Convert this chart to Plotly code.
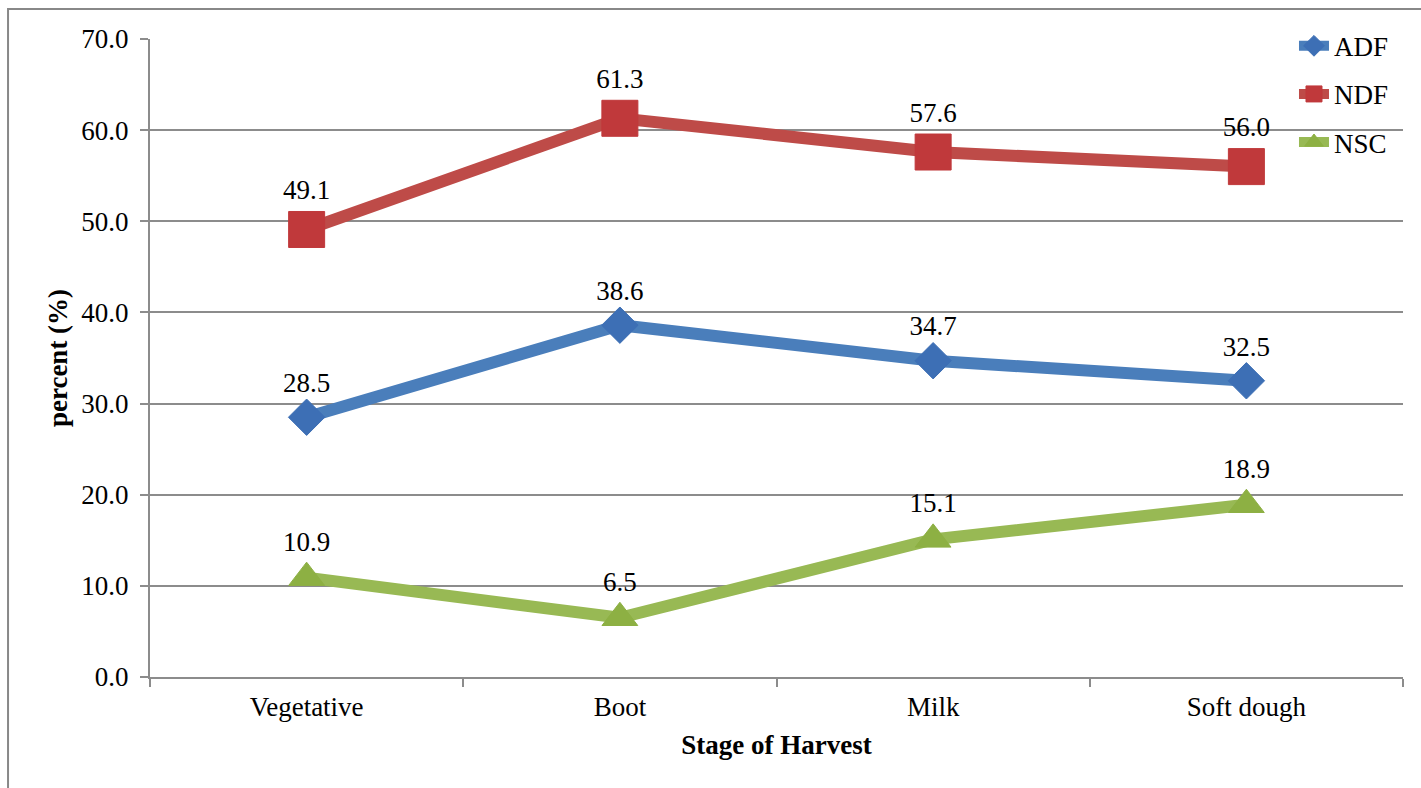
import plotly.graph_objects as go

stages = ["Vegetative", "Boot", "Milk", "Soft dough"]
adf = [28.5, 38.6, 34.7, 32.5]
ndf = [49.1, 61.3, 57.6, 56.0]
nsc = [10.9, 6.5, 15.1, 18.9]
y_ticks = [0, 10, 20, 30, 40, 50, 60, 70]

FONT = "Liberation Serif"
FS = 27

series = [
    ("ADF", adf, "#4A7EBB", "#3D6FB5", "diamond", 28),
    ("NDF", ndf, "#BE4B48", "#C0393B", "square", 36),
    ("NSC", nsc, "#98B954", "#8DB043", "triangle-up", 31),
]

fig = go.Figure()
for i, (name, vals, lc, mc, sym, ms) in enumerate(series):
    fig.add_trace(go.Scatter(
        x=stages, y=vals, name=name, mode="lines+markers+text",
        line=dict(color=lc, width=12),
        marker=dict(symbol=sym, size=ms, color=mc, line=dict(color=mc, width=1)),
        text=[f"{v:.1f}" for v in vals], textposition="top center",
        textfont=dict(family=FONT, size=FS, color="black"),
        legendgroup=name,
    ))

fig.update_layout(
    width=1421, height=788,
    margin=dict(l=150, r=18, t=39, b=111),
    paper_bgcolor="white", plot_bgcolor="white",
    font=dict(family=FONT, size=FS, color="black"),
    showlegend=True,
    legend=dict(x=0.913, y=1.027, xanchor="left", yanchor="top",
                bgcolor="rgba(0,0,0,0)", font=dict(family=FONT, size=FS),
                tracegroupgap=10, itemwidth=30),
    xaxis=dict(
        type="category", range=[-0.5, 3.5], tickson="boundaries",
        ticks="outside", ticklen=8, tickcolor="#8C8C8C", tickwidth=2,
        showline=True, linecolor="#8C8C8C", linewidth=2,
        showgrid=False, zeroline=False,
        tickfont=dict(family=FONT, size=FS), ticklabelstandoff=5,
        title=dict(text="<b>Stage of Harvest</b>", font=dict(family=FONT, size=FS), standoff=14),
    ),
    yaxis=dict(
        range=[0, 70], tickvals=y_ticks, ticktext=[f"{v:.1f}" for v in y_ticks],
        ticks="outside", ticklen=8, tickcolor="#8C8C8C", tickwidth=2,
        showline=True, linecolor="#8C8C8C", linewidth=2,
        showgrid=True, gridcolor="#8C8C8C", gridwidth=1.5, zeroline=False,
        tickfont=dict(family=FONT, size=FS), ticklabelstandoff=6,
        title=dict(text="<b>percent (%)</b>", font=dict(family=FONT, size=FS), standoff=6),
    ),
    shapes=[dict(type="rect", xref="paper", yref="paper",
                 x0=-0.1133, x1=1.2, y0=-0.4, y1=1.047,
                 line=dict(color="#888888", width=2), fillcolor="rgba(0,0,0,0)",
                 layer="below")],
)

fig.write_html("out.html")
